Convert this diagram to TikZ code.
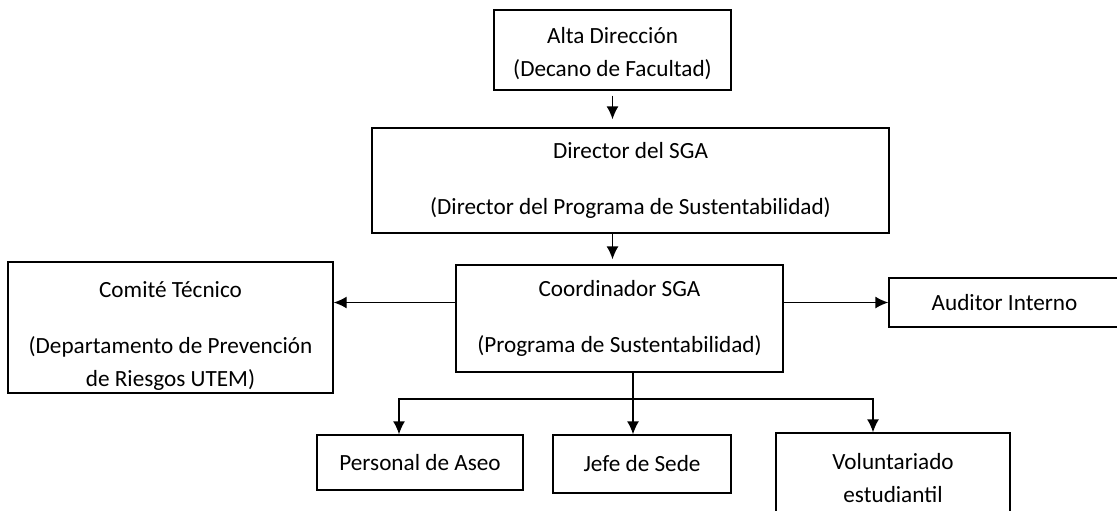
\documentclass[tikz,border=0pt]{standalone}
\usepackage{fontspec}
\setmainfont{Carlito}
\usetikzlibrary{positioning,arrows.meta}

\begin{document}
\begin{tikzpicture}[x=0.5pt,y=-0.5pt,
box/.style={draw,rectangle,line width=0.7pt,inner sep=0pt,align=center,
    font=\fontsize{11.6}{16.5}\selectfont},
arr/.style={-{Latex[length=6.5pt,width=6pt]},line width=0.7pt}]
\useasboundingbox (0,0) rectangle (1117,510);
\node (alta) [box,minimum width=118.5pt,minimum height=40pt] at (612.5,50)
    {\rule{0pt}{11.5pt}Alta Dirección\\(Decano de Facultad)};
\node (dir) [box,minimum width=258.5pt,minimum height=52.5pt] at (630.5,180.5)
    {Director del SGA\\[11.5pt](Director del Programa de Sustentabilidad)};
\node (coord) [box,minimum width=163.5pt,minimum height=53.5pt] at (619.5,318.5)
    {Coordinador SGA\\[11.5pt](Programa de Sustentabilidad)};
\node (comite) [box,minimum width=162.5pt,minimum height=65.5pt] at (170.5,327.5)
    {\rule{0pt}{16.5pt}Comité Técnico\\[11.5pt](Departamento de Prevención\\de Riesgos UTEM)};
\node (auditor) [box,minimum width=115.5pt,minimum height=24.5pt] at (1004.5,302.5)
    {Auditor Interno};
\node (pers) [box,minimum width=103pt,minimum height=27.5pt] at (420,462.5)
    {Personal de Aseo};
\node (jefe) [box,minimum width=89pt,minimum height=29pt] at (642,464)
    {Jefe de Sede};
\node (volun) [box,minimum width=117pt,minimum height=45pt] at (893,478)
    {Voluntariado\\estudiantil};
\coordinate (split) at (633,399);
% chain
\draw[arr,shorten <=2.5pt,shorten >=4pt] (alta.south) -- (alta.south |- dir.north);
\draw[arr,shorten >=2.5pt] (alta.south |- dir.south) -- (alta.south |- coord.north);
\draw[arr] (coord.west |- auditor.west) -- (comite.east |- auditor.west);
\draw[arr] (coord.east |- auditor.west) -- (auditor.west);
% lower level
\draw[line width=0.7pt] (coord.south -| split) -- (split);
\draw[arr] (split) -| ([xshift=-10.5pt]pers.north);
\draw[arr] (split) -- (split |- jefe.north);
\draw[arr] (split) -| ([xshift=-10pt]volun.north);
\end{tikzpicture}
\end{document}
